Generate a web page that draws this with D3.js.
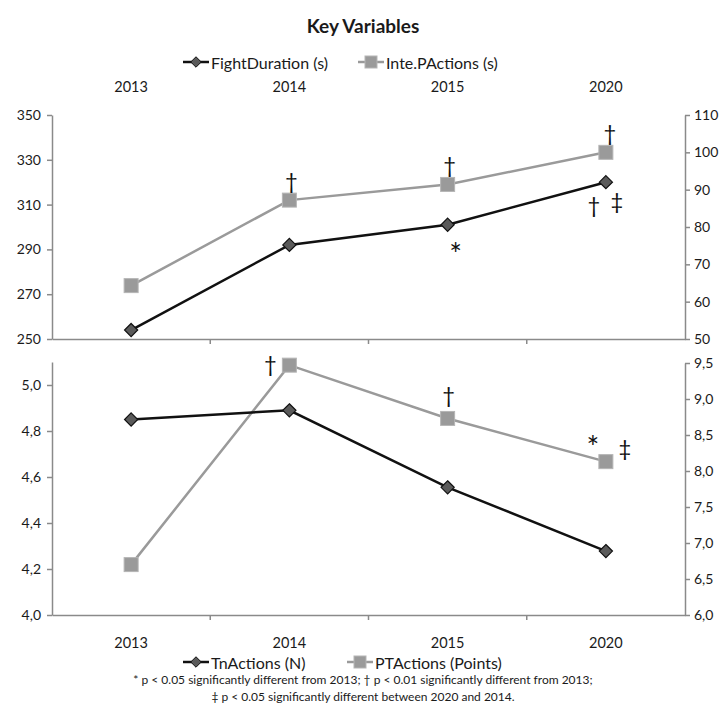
<!DOCTYPE html>
<html>
<head>
<meta charset="utf-8">
<script src="https://cdn.jsdelivr.net/npm/d3@7"></script>
<style>
  body { margin: 0; background: #fff; }
  text { font-family: Lato, "Open Sans", sans-serif; fill: #1a1a1a; }
</style>
</head>
<body>
<div id="chart"></div>
<script>
// Data
const years = ['2013', '2014', '2015', '2020']
const fightDuration = [254, 292, 301, 320]        // s, left axis (top)
const intePActions = [64.3, 87.2, 91.4, 100.0]    // s, right axis (top)
const tnActions = [4.85, 4.89, 4.555, 4.278]      // N, left axis (bottom)
const ptActions = [6.70, 9.47, 8.73, 8.13]        // points, right axis (bottom)

const topLeftTicks = [250, 270, 290, 310, 330, 350]
const topRightTicks = [50, 60, 70, 80, 90, 100, 110]
const botLeftTicks = [4.0, 4.2, 4.4, 4.6, 4.8, 5.0]
const botRightTicks = [6.0, 6.5, 7.0, 7.5, 8.0, 8.5, 9.0, 9.5]

// significance marks: [series, year index, symbol, dx, dy]
const topMarks = [
  ['inte', 1, '†', 2, -20],
  ['inte', 2, '†', 2, -20],
  ['inte', 3, '†', 4, -20],
  ['fight', 2, '*', 8, 19],
  ['fight', 3, '†', -12, 22],
  ['fight', 3, '‡', 11, 18]
]
const botMarks = [
  ['pt', 1, '†', -19, -2],
  ['pt', 2, '†', 1, -24],
  ['pt', 3, '*', -13, -25],
  ['pt', 3, '‡', 19, -14]
]

// Dimensions
const width = 726, height = 719
const left = 52, right = 685

const svg = d3.select('#chart').append('svg')
  .attr('width', width)
  .attr('height', height)

const xScale = d3.scaleBand()
  .domain(years)
  .range([left, right])

const xc = d => xScale(d) + xScale.bandwidth() / 2

// Scales
const yTopL = d3.scaleLinear().domain([250, 350]).range([339, 115])
const yTopR = d3.scaleLinear().domain([50, 110]).range([339, 115])
const yBotL = d3.scaleLinear().domain([4.0, 5.1]).range([615, 362])
const yBotR = d3.scaleLinear().domain([6.0, 9.5]).range([615, 363])

const comma1 = d => d3.format('.1f')(d).replace('.', ',')

function styleAxis(g) {
  g.selectAll('path, line').attr('stroke', '#8a8a8a').attr('stroke-width', 1.5)
  g.selectAll('text').attr('font-size', '14px').attr('fill', '#1a1a1a')
    .attr('font-family', 'Lato, sans-serif')
}

// Axes - top panel
svg.append('g').attr('transform', `translate(${left},0)`)
  .call(d3.axisLeft(yTopL).tickValues(topLeftTicks).tickSize(5).tickSizeOuter(0).tickPadding(6))
  .call(styleAxis)
svg.append('g').attr('transform', `translate(${right},0)`)
  .call(d3.axisRight(yTopR).tickValues(topRightTicks).tickSize(5).tickSizeOuter(0).tickPadding(4))
  .call(styleAxis)
const xTop = svg.append('g').attr('transform', 'translate(0,339)')
  .call(d3.axisBottom(xScale).tickSize(0).tickFormat(''))
  .call(styleAxis)
xTop.selectAll('.tb').data(d3.range(1, years.length)).join('line')
  .attr('x1', i => left + i * xScale.step()).attr('x2', i => left + i * xScale.step())
  .attr('y1', 0).attr('y2', 5).attr('stroke', '#8a8a8a').attr('stroke-width', 1.5)

// top category labels
svg.append('g').selectAll('text').data(years).join('text')
  .attr('x', d => xc(d)).attr('y', 92)
  .attr('text-anchor', 'middle').attr('font-size', '14.5px')
  .text(d => d)

// Axes - bottom panel
svg.append('g').attr('transform', `translate(${left},0)`)
  .call(d3.axisLeft(yBotL).tickValues(botLeftTicks).tickFormat(comma1).tickSize(5).tickSizeOuter(0).tickPadding(6))
  .call(styleAxis)
svg.append('g').attr('transform', `translate(${right},0)`)
  .call(d3.axisRight(yBotR).tickValues(botRightTicks).tickFormat(comma1).tickSize(5).tickSizeOuter(0).tickPadding(4))
  .call(styleAxis)
const xBot = svg.append('g').attr('transform', 'translate(0,615)')
  .call(d3.axisBottom(xScale).tickSize(0).tickFormat(''))
  .call(styleAxis)
xBot.selectAll('.tb').data(d3.range(1, years.length)).join('line')
  .attr('x1', i => left + i * xScale.step()).attr('x2', i => left + i * xScale.step())
  .attr('y1', 0).attr('y2', 5).attr('stroke', '#8a8a8a').attr('stroke-width', 1.5)

svg.append('g').selectAll('text').data(years).join('text')
  .attr('x', d => xc(d)).attr('y', 648)
  .attr('text-anchor', 'middle').attr('font-size', '14.5px')
  .text(d => d)

// Series drawing
const diamond = d3.symbol().type(d3.symbolDiamond2).size(110)

function drawSeries(values, yScale, kind) {
  const pts = values.map((v, i) => [xc(years[i]), yScale(v)])
  const g = svg.append('g')
  g.append('path')
    .attr('d', d3.line()(pts))
    .attr('fill', 'none')
    .attr('stroke', kind === 'diamond' ? '#111' : '#9a9a9a')
    .attr('stroke-width', 2.5)
  if (kind === 'diamond') {
    g.selectAll('path.m').data(pts).join('path').attr('class', 'm')
      .attr('d', diamond)
      .attr('transform', d => `translate(${d[0]},${d[1]})`)
      .attr('fill', '#5a5a5a').attr('stroke', '#111').attr('stroke-width', 1.2)
  } else {
    g.selectAll('rect').data(pts).join('rect')
      .attr('x', d => d[0] - 7).attr('y', d => d[1] - 7)
      .attr('width', 14).attr('height', 14)
      .attr('fill', '#9a9a9a').attr('stroke', '#b5b5b5').attr('stroke-width', 1)
  }
}

drawSeries(intePActions, yTopR, 'square')
drawSeries(fightDuration, yTopL, 'diamond')
drawSeries(ptActions, yBotR, 'square')
drawSeries(tnActions, yBotL, 'diamond')

// Significance marks
const lookup = {
  fight: [fightDuration, yTopL], inte: [intePActions, yTopR],
  tn: [tnActions, yBotL], pt: [ptActions, yBotR]
}
svg.append('g').selectAll('text').data(topMarks.concat(botMarks)).join('text')
  .attr('x', d => xc(years[d[1]]) + d[3])
  .attr('y', d => lookup[d[0]][1](lookup[d[0]][0][d[1]]) + d[4])
  .attr('text-anchor', 'middle').attr('dominant-baseline', 'central')
  .attr('font-size', d => d[2] === '*' ? '30px' : '22px')
  .attr('font-family', d => d[2] === '*' ? '"Liberation Sans", sans-serif' : '"DejaVu Sans", sans-serif')
  .attr('dy', d => d[2] === '*' ? '0.3em' : 0)
  .style('fill', '#111')
  .text(d => d[2])

// Title
svg.append('text')
  .attr('x', 363).attr('y', 33)
  .attr('text-anchor', 'middle').attr('font-size', '19px').attr('font-weight', 'bold')
  .text('Key Variables')

// Legends
function legend(y, items) {
  const g = svg.append('g')
  items.forEach(it => {
    g.append('line').attr('x1', it.x).attr('x2', it.x + 26).attr('y1', y).attr('y2', y)
      .attr('stroke', it.kind === 'diamond' ? '#111' : '#9a9a9a').attr('stroke-width', 2.5)
    if (it.kind === 'diamond') {
      g.append('path').attr('d', d3.symbol().type(d3.symbolDiamond2).size(70))
        .attr('transform', `translate(${it.x + 13},${y})`)
        .attr('fill', '#5a5a5a').attr('stroke', '#111').attr('stroke-width', 1)
    } else {
      g.append('rect').attr('x', it.x + 7).attr('y', y - 6).attr('width', 12).attr('height', 12)
        .attr('fill', '#9a9a9a').attr('stroke', '#b5b5b5')
    }
    g.append('text').attr('x', it.x + 28).attr('y', y).attr('dominant-baseline', 'central')
      .attr('font-size', '16px').text(it.label)
  })
}
legend(62, [
  { x: 183, kind: 'diamond', label: 'FightDuration (s)' },
  { x: 358, kind: 'square', label: 'Inte.PActions (s)' }
])
legend(662, [
  { x: 183, kind: 'diamond', label: 'TnActions (N)' },
  { x: 347, kind: 'square', label: 'PTActions (Points)' }
])

// Footnote
const notes = [
  '* p < 0.05 significantly different from 2013; † p < 0.01 significantly different from 2013;',
  '‡ p < 0.05 significantly different between 2020 and 2014.'
]
svg.append('g').selectAll('text').data(notes).join('text')
  .attr('x', 363).attr('y', (d, i) => 684 + i * 17)
  .attr('text-anchor', 'middle').attr('font-size', '12px')
  .attr('font-family', '"Liberation Sans Narrow", "DejaVu Sans Condensed", sans-serif')
  .text(d => d)
</script>
</body>
</html>
